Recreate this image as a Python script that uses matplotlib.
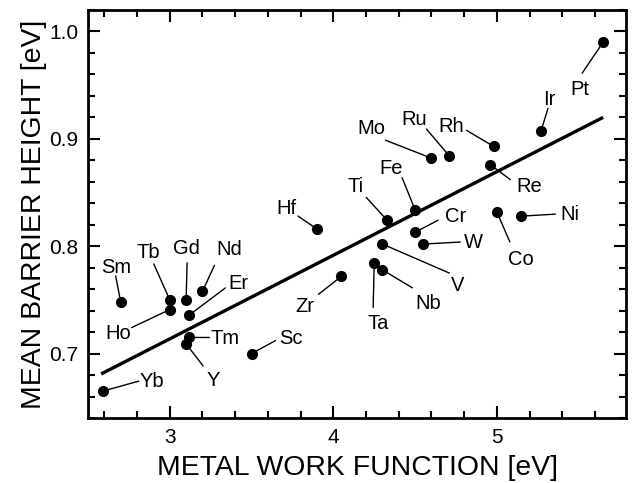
import matplotlib.pyplot as plt
from matplotlib.ticker import MultipleLocator

plt.rcParams['font.family'] = ['Liberation Sans', 'DejaVu Sans']

# metal, work function [eV], mean barrier height [eV]
metals = ['Yb', 'Sm', 'Tb', 'Ho', 'Gd', 'Nd', 'Er', 'Tm', 'Y', 'Sc',
          'Hf', 'Zr', 'Ta', 'Nb', 'V', 'Ti', 'Fe', 'Cr', 'W', 'Mo',
          'Ru', 'Re', 'Rh', 'Co', 'Ni', 'Ir', 'Pt']
work_function = [2.59, 2.70, 3.00, 3.00, 3.10, 3.20, 3.12, 3.12, 3.10, 3.50,
                 3.90, 4.05, 4.25, 4.30, 4.30, 4.33, 4.50, 4.50, 4.55, 4.60,
                 4.71, 4.96, 4.98, 5.00, 5.15, 5.27, 5.65]
barrier_height = [0.665, 0.748, 0.750, 0.741, 0.750, 0.758, 0.736, 0.715, 0.709, 0.700,
                  0.816, 0.772, 0.784, 0.778, 0.802, 0.824, 0.834, 0.813, 0.802, 0.882,
                  0.884, 0.876, 0.893, 0.832, 0.828, 0.907, 0.990]

# linear fit drawn through the points
fit_x = [2.58, 5.65]
fit_y = [0.681, 0.920]

# (text offset, leader end offset) in pixels from each dot
label_offsets = {
    'Yb': ((49, 4), (36, 10)),
    'Sm': ((-5, 29), (-5, 26)),
    'Tb': ((-21, 42), (-16, 36)),
    'Gd': ((0, 46), (1, 37)),
    'Nd': ((27, 36), (12, 26)),
    'Er': ((49, 26), (36, 27)),
    'Ho': ((-52, -29), (-38, -18)),
    'Tm': ((36, -7), (20, 0)),
    'Y': ((27, -42), (17, -22)),
    'Sc': ((39, 10), (24, 13)),
    'Hf': ((-31, 15), (-19, 13)),
    'Zr': ((-37, -36), (-23, -18)),
    'Ta': ((4, -66), (-1, -44)),
    'Nb': ((46, -39), (30, -18)),
    'V': ((75, -47), (67, -29)),
    'Ti': ((-32, 28), (-21, 23)),
    'Fe': ((-24, 36), (-13, 32)),
    'Cr': ((41, 10), (23, 12)),
    'W': ((50, -4), (37, 2)),
    'Mo': ((-60, 24), (-46, 18)),
    'Ru': ((-35, 31), (-23, 27)),
    'Re': ((39, -27), (20, -15)),
    'Rh': ((-42, 14), (-27, 16)),
    'Co': ((24, -53), (13, -30)),
    'Ni': ((49, -4), (34, 2)),
    'Ir': ((8, 26), (7, 23)),
    'Pt': ((-23, -53), (-21, -31)),
}

fig = plt.figure(figsize=(6.34, 4.83), dpi=100)
ax = fig.add_axes([0.1388, 0.1346, 0.8486, 0.8447])

ax.plot(fit_x, fit_y, color='black', lw=2.4, solid_capstyle='butt', zorder=2)
ax.plot(work_function, barrier_height, 'o', color='black', ms=7, zorder=5)

for name, x, y in zip(metals, work_function, barrier_height):
    (tx, ty), (lx, ly) = label_offsets[name]
    ax.annotate('', xy=(x, y), xytext=(lx, ly), textcoords='offset pixels',
                arrowprops=dict(arrowstyle='-', color='black', lw=1.0,
                                shrinkA=0, shrinkB=0))
    ax.annotate(name, xy=(x, y), xytext=(tx, ty), textcoords='offset pixels',
                ha='center', va='baseline', fontsize=14.5)

ax.set_xlim(2.5, 5.79)
ax.set_ylim(0.64, 1.02)

ax.xaxis.set_major_locator(MultipleLocator(1))
ax.xaxis.set_minor_locator(MultipleLocator(0.2))
ax.yaxis.set_major_locator(MultipleLocator(0.1))
ax.yaxis.set_minor_locator(MultipleLocator(0.02))
ax.set_yticks([0.7, 0.8, 0.9, 1.0])
ax.set_yticklabels(['0.7', '0.8', '0.9', '1.0'])

ax.tick_params(which='both', direction='in', top=True, right=True,
               width=1.5, labelsize=15, pad=7)
ax.tick_params(which='major', length=8.5)
ax.tick_params(which='minor', length=5)
for spine in ax.spines.values():
    spine.set_linewidth(2)

ax.set_xlabel('METAL WORK FUNCTION [eV]', fontsize=20.4)
ax.set_ylabel('MEAN BARRIER HEIGHT [eV]', fontsize=20.4)
ax.xaxis.set_label_coords(0.5, -0.09)
ax.yaxis.set_label_coords(-0.076, 0.5)

fig.savefig('out.png', dpi=100)
